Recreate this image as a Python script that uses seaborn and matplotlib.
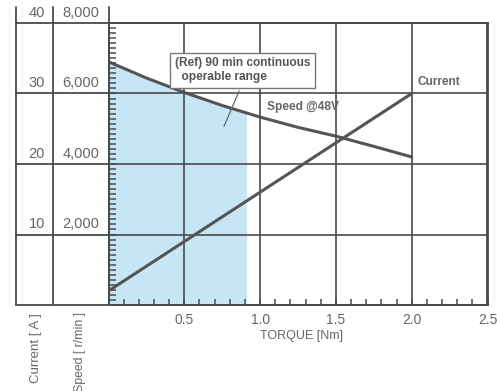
import numpy as np
import pandas as pd
import matplotlib
matplotlib.use("Agg")
import matplotlib.pyplot as plt
from matplotlib.ticker import MultipleLocator
import seaborn as sns

# data
torque = [0, 0.25, 0.5, 0.75, 1.0, 1.25, 1.5, 1.75, 2.0]
speed_48v = [6900, 6440, 6030, 5660, 5330, 5040, 4790, 4500, 4200]
current_a = [2.0, 5.5, 9.0, 12.5, 16.0, 19.5, 23.0, 26.5, 30.0]
range_torque = [0, 0.25, 0.5, 0.75, 0.91]
range_speed = [6900, 6440, 6030, 5660, 5450]
current_ticks = [10, 20, 30, 40]
speed_ticks = ["2,000", "4,000", "6,000", "8,000"]
torque_ticks = [0.5, 1.0, 1.5, 2.0, 2.5]

sns.set_theme(style="white")
plt.rcParams['font.family'] = ['Liberation Sans', 'DejaVu Sans']

LINE = '#4a4a4a'
TXT = '#666666'
FILL = '#c6e6f5'
W, H = 497, 391

df = pd.DataFrame({'torque': torque, 'speed': speed_48v, 'current': current_a})

fig = plt.figure(figsize=(W / 100, H / 100), dpi=100)
fig.patch.set_facecolor('white')

x0, x1, ytop, ybot = 108.5, 487.5, 23, 305
ax = fig.add_axes([x0 / W, 1 - ybot / H, (x1 - x0) / W, (ybot - ytop) / H])
ax.set_xlim(0, 2.5)
ax.set_ylim(0, 40)
ax2 = ax.twinx()
ax2.set_ylim(0, 8000)

# continuous operable range
ax2.fill_between(range_torque, 0, range_speed, color=FILL, lw=0, zorder=0)

# grid
for t in torque_ticks[:-1]:
    ax.axvline(t, color=LINE, lw=1.2, zorder=1)
for c in current_ticks[:-1]:
    ax.axhline(c, color=LINE, lw=1.2, zorder=1)

sns.lineplot(data=df, x='torque', y='current', ax=ax, color='#555555', lw=2.2, zorder=3)
sns.lineplot(data=df, x='torque', y='speed', ax=ax2, color='#555555', lw=2.2, zorder=3)

for a in (ax, ax2):
    for s in a.spines.values():
        s.set_color(LINE)
        s.set_linewidth(1.3)
    a.set_xlabel('')
    a.set_ylabel('')
ax2.set_yticks([])
ax.set_zorder(ax2.get_zorder() + 1)
ax.patch.set_visible(False)

ax.set_yticks([])
ax.yaxis.set_minor_locator(MultipleLocator(10 / 14))
ax.tick_params(axis='y', which='minor', left=True, direction='in', length=5, width=1.1, color=LINE)
ax.set_xticks(torque_ticks)
ax.set_xticklabels([f"{t:.1f}" for t in torque_ticks])
ax.xaxis.set_minor_locator(MultipleLocator(0.1))
ax.tick_params(axis='x', which='both', bottom=True, direction='in', length=4, width=1.1,
               color=LINE, labelsize=10, labelcolor=TXT, pad=6)
ax.text(0.51, -0.088, 'TORQUE [Nm]', transform=ax.transAxes, ha='center', va='top',
        fontsize=9, color=TXT)

ax.annotate('(Ref) 90 min continuous\n  operable range', xy=(0.755, 25.0), xytext=(0.884, 33.3),
            ha='center', va='center', multialignment='left', fontsize=8.6,
            color='#555555', fontweight='bold',
            bbox=dict(boxstyle='square,pad=0.4', fc='white', ec='#777777', lw=1),
            arrowprops=dict(arrowstyle='-', color='#666666', lw=0.9, relpos=(0.5, 0)),
            zorder=5)
ax.text(1.045, 28.1, 'Speed @48V', ha='left', va='center', fontsize=8.6,
        color='#666666', fontweight='bold')
ax.text(2.035, 31.6, 'Current', ha='left', va='center', fontsize=8.6,
        color='#666666', fontweight='bold')

# left label panel
lx0 = 15.5
lax = fig.add_axes([lx0 / W, 1 - ybot / H, (x0 - lx0) / W, (ybot - ytop) / H])
lax.set_xlim(0, x0 - lx0)
lax.set_ylim(0, 40)
lax.axis('off')
top_ext = 40 + (ytop - 7) / ((ybot - ytop) / 40)
for xv in (0, 53 - lx0, x0 - lx0):
    lax.plot([xv, xv], [0, top_ext], color=LINE, lw=1.3, clip_on=False)
for c in [0] + current_ticks:
    lax.plot([0, x0 - lx0], [c, c], color=LINE, lw=1.3, clip_on=False)
for c, s in zip(current_ticks, speed_ticks):
    lax.text(45 - lx0, c + 0.45, str(c), ha='right', va='bottom', fontsize=10.5, color=TXT)
    lax.text(99 - lx0, c + 0.45, s, ha='right', va='bottom', fontsize=10.5, color=TXT)

fig.text(36 / W, 1 - 313 / H, 'Current [ A ]', rotation=90, ha='center', va='top',
         fontsize=9.5, color=TXT)
fig.text(80 / W, 1 - 312 / H, 'Speed [ r/min ]', rotation=90, ha='center', va='top',
         fontsize=8.8, color=TXT)

fig.savefig('out.png', dpi=100, facecolor='white')
